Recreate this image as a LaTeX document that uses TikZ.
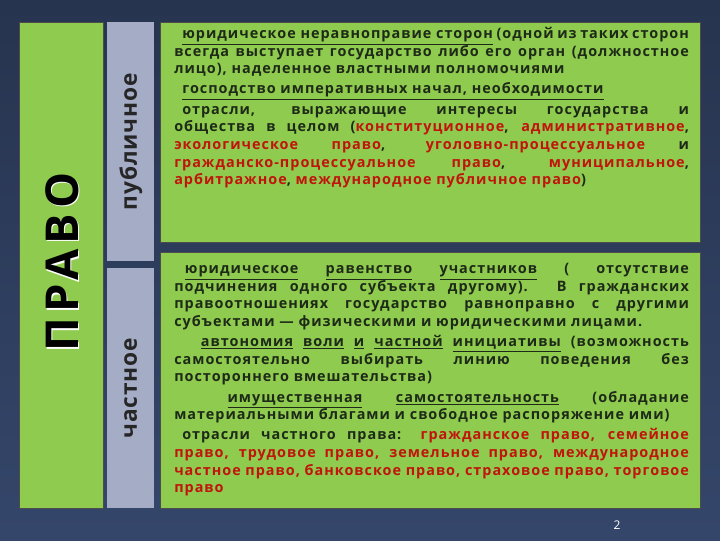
\documentclass[tikz,border=0pt]{standalone}
\usepackage{fontspec}
\setmainfont{Open Sans}
\usetikzlibrary{shadows}
\definecolor{bg}{HTML}{34466A}
\definecolor{bgtop}{HTML}{27344F}
\definecolor{gr}{HTML}{8FCB4E}
\definecolor{gb}{HTML}{A4ACC6}
\definecolor{rd}{HTML}{C0140C}
\definecolor{tx}{HTML}{1E2A18}
\tikzset{
 gbox/.style={fill=gr,draw=black!70,line width=0.8pt},
 sbox/.style={fill=gb,draw=none},
 body/.style={anchor=north west,text width=386pt,align=justify,inner sep=0pt,font=\fontsize{10.8}{13.2}\selectfont\bfseries\addfontfeature{LetterSpace=7},text=tx},
 vlab/.style={rotate=90,font=\fontsize{17}{17}\selectfont\bfseries\addfontfeature{LetterSpace=4},text=black!85}
}
\newcommand{\rr}[1]{\textcolor{rd}{#1}}
\begin{document}
\begin{tikzpicture}[x=0.75pt,y=-0.75pt]
\useasboundingbox (0,0) rectangle (720,540);
\shade[top color=bgtop,bottom color=bg] (0,0) rectangle (720,540);
\node[gbox,minimum width=84*0.75pt,minimum height=486*0.75pt,anchor=north west,inner sep=0pt] (pravo) at (19,22) {};
\node[rotate=90,font=\fontsize{34}{34}\selectfont\bfseries,text=white] at (63.5,263.5) {\addfontfeature{LetterSpace=12}ПРАВО};
\node[rotate=90,font=\fontsize{34}{34}\selectfont\bfseries,text=black] (pt) at (62,262) {\addfontfeature{LetterSpace=12}ПРАВО};
\node[sbox,minimum width=47*0.75pt,minimum height=239*0.75pt,anchor=north west,inner sep=0pt] (pub) at (107,22) {};
\node[vlab] at (pub.center) {публичное};
\node[sbox,minimum width=47*0.75pt,minimum height=240*0.75pt,anchor=north west,inner sep=0pt] (chast) at (107,268) {};
\node[vlab] at (chast.center) {частное};
\node[gbox,minimum width=540*0.75pt,minimum height=220*0.75pt,anchor=north west,inner sep=0pt] (top) at (160,22) {};
\node[gbox,minimum width=540*0.75pt,minimum height=256*0.75pt,anchor=north west,inner sep=0pt] (bot) at (160,252) {};
\node[body] (t1) at (174,27) {\hspace*{6pt}\underline{юридическое неравноправие сторон} (одной из таких сторон всегда выступает государство либо его орган (должностное лицо), наделенное властными полномочиями\\[2pt]
\hspace*{6pt}\underline{господство императивных начал, необходимости}\\[2pt]
\hspace*{6pt}отрасли, выражающие интересы государства и общества в целом (\rr{конституционное}, \rr{административное}, \rr{экологическое право}, \rr{уголовно-процессуальное} и \rr{гражданско-процессуальное право}, \rr{муниципальное}, \rr{арбитражное}, \rr{международное публичное право})};
\node[body] (t2) at (174,263) {\hspace*{8pt}\underline{юридическое} \underline{равенство} \underline{участников} ( отсутствие подчинения одного субъекта другому). В гражданских правоотношениях государство равноправно с другими субъектами — физическими и юридическими лицами.\\[2pt]
\hspace*{20pt}\underline{автономия} \underline{воли} \underline{и} \underline{частной} \underline{инициативы} (возможность самостоятельно выбирать линию поведения без постороннего вмешательства)\\[2pt]
\hspace*{40pt}\underline{имущественная} \underline{самостоятельность} (обладание материальными благами и свободное распоряжение ими)\\[2pt]
\hspace*{6pt}отрасли частного права: \rr{гражданское право, семейное право, трудовое право, земельное право, международное частное право, банковское право, страховое право, торговое право}};
\node[text=white,font=\fontsize{9}{9}\selectfont] (num) at (617,525) {2};
\end{tikzpicture}
\end{document}
